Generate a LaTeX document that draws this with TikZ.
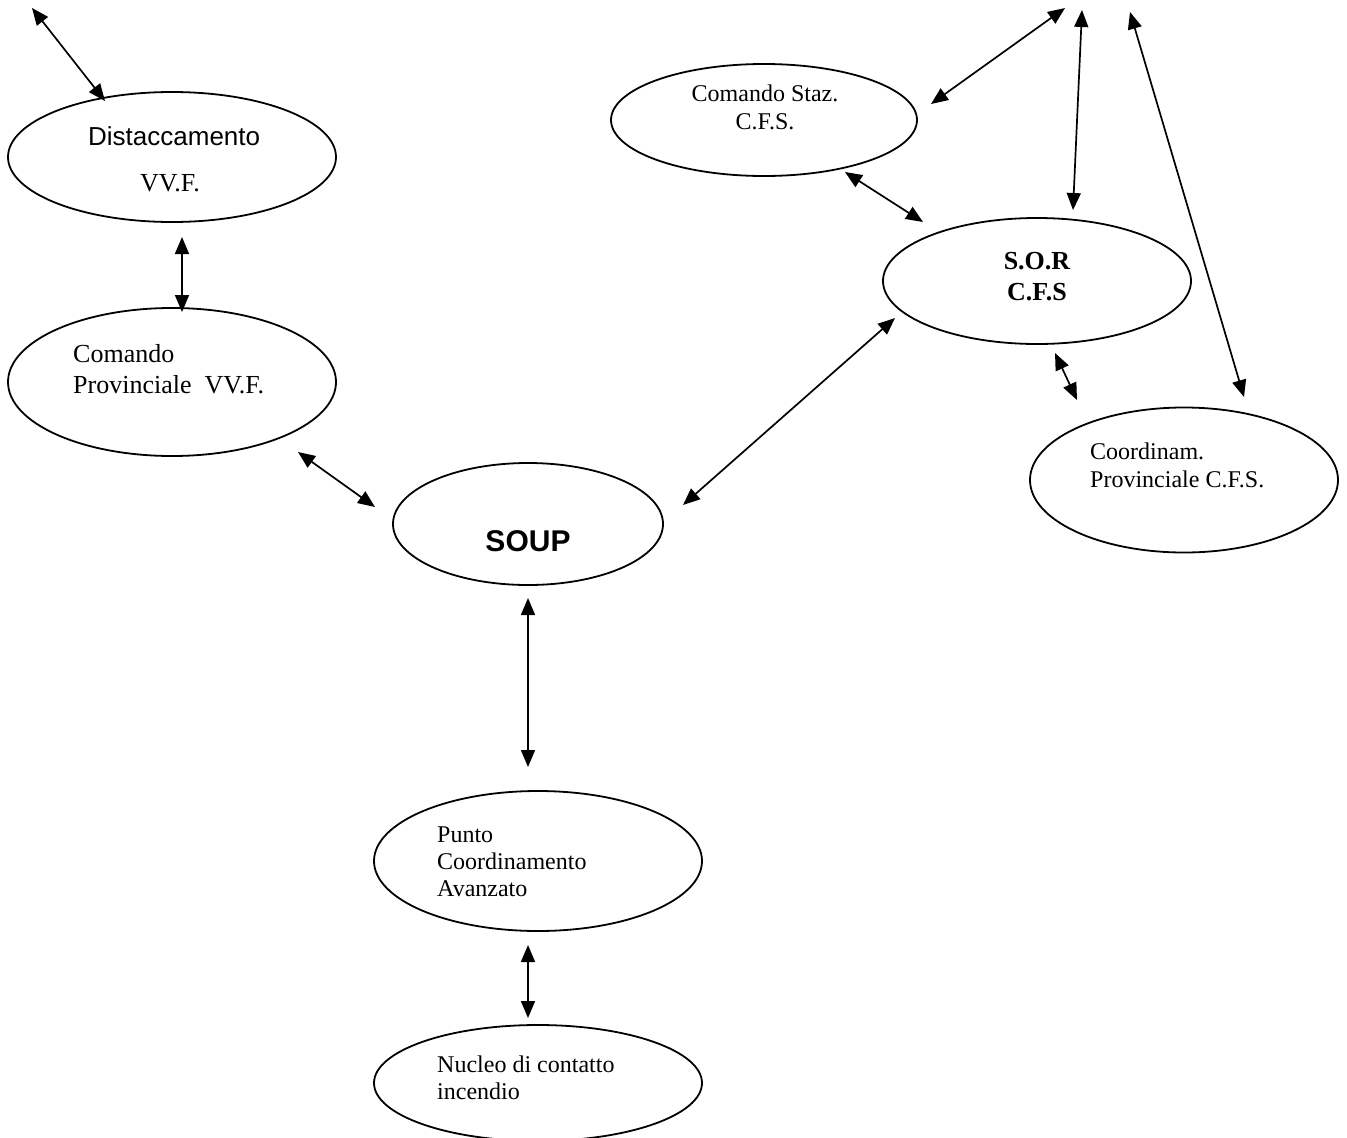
\documentclass[tikz,border=0pt]{standalone}
\usepackage{fontspec}
\setmainfont{Liberation Serif}
\newfontfamily\arialfont{Liberation Sans}
\usetikzlibrary{shapes.geometric,arrows.meta}
\begin{document}
\begin{tikzpicture}[x=1pt,y=-1pt,
  ell/.style={draw, ellipse, line width=1.8pt, inner sep=0pt},
  dbl/.style={line width=1.7pt, {Triangle[length=17pt,width=14pt]}-{Triangle[length=17pt,width=14pt]}},
  tsmall/.style={font=\fontsize{24}{28}\selectfont, inner sep=0pt},
  tlarge/.style={font=\fontsize{26}{30}\selectfont, inner sep=0pt},
  tbold/.style={font=\fontsize{26}{31}\selectfont\bfseries, inner sep=0pt},
  asans/.style={font=\arialfont\fontsize{26}{30}\selectfont, inner sep=0pt},
  asansbold/.style={font=\arialfont\fontsize{30}{34}\selectfont\bfseries, inner sep=0pt}]
\useasboundingbox[fill=white] (0,0) rectangle (1347,1138);

% ellipses
\node[ell, minimum width=328pt, minimum height=130pt] (dist) at (172,157) {};
\node[ell, minimum width=328pt, minimum height=148pt] (cpv) at (172,382) {};
\node[ell, minimum width=270pt, minimum height=122pt] (soup) at (528,524) {};
\node[ell, minimum width=306pt, minimum height=112pt] (staz) at (764,120) {};
\node[ell, minimum width=308pt, minimum height=126pt] (sor) at (1037,281) {};
\node[ell, minimum width=308pt, minimum height=145pt] (coord) at (1184,480) {};
\node[ell, minimum width=328pt, minimum height=140pt] (punto) at (538,861) {};
\node[ell, minimum width=328pt, minimum height=116pt] (nucleo) at (538,1083) {};

% texts
\node[asans, anchor=base west] (distA) at (88,145) {Distaccamento};
\node[tlarge, anchor=base west] (distB) at (140,191) {VV.F.};
\node[tlarge, anchor=base west] (cpvA) at (73,362) {Comando};
\node[tlarge, anchor=base west] (cpvB) at (73,393) {Provinciale~~VV.F.};
\node[asansbold, anchor=base] (soupA) at (528,551) {SOUP};
\node[tsmall, anchor=base] (stazA) at (765,101) {Comando Staz.};
\node[tsmall, anchor=base] (stazB) at (765,129) {C.F.S.};
\node[tbold, anchor=base] (sorA) at (1037,269) {S.O.R};
\node[tbold, anchor=base] (sorB) at (1037,300) {C.F.S};
\node[tsmall, anchor=base west] (coordA) at (1090,459) {Coordinam.};
\node[tsmall, anchor=base west] (coordB) at (1090,487) {Provinciale C.F.S.};
\node[tsmall, anchor=base west] (puntoA) at (437,842) {Punto};
\node[tsmall, anchor=base west] (puntoB) at (437,869) {Coordinamento};
\node[tsmall, anchor=base west] (puntoC) at (437,896) {Avanzato};
\node[tsmall, anchor=base west] (nucleoA) at (437,1072) {Nucleo di contatto};
\node[tsmall, anchor=base west] (nucleoB) at (437,1099) {incendio};

% connector end points
\coordinate (topL) at (32,8);
\coordinate (distNW) at (105,101);
\coordinate (distS) at (182,237);
\coordinate (cpvN) at (182,312);
\coordinate (cpvSE) at (298,452);
\coordinate (soupNW) at (375,507);
\coordinate (soupS) at (528,598);
\coordinate (puntoN) at (528,767);
\coordinate (puntoS) at (528,945);
\coordinate (nucleoN) at (528,1018);
\coordinate (soupE) at (683,505);
\coordinate (sorSW) at (895,318);
\coordinate (stazSE) at (845,172);
\coordinate (sorNW) at (923,222);
\coordinate (stazE) at (931,104);
\coordinate (topA) at (1065,8);
\coordinate (topB) at (1082,10);
\coordinate (sorN) at (1073,210);
\coordinate (topC) at (1130,12);
\coordinate (coordN) at (1244,397);
\coordinate (sorS) at (1055,353);
\coordinate (coordNW) at (1077,400);

% connectors
\draw[dbl] (topL) -- (distNW);
\draw[dbl] (distS) -- (cpvN);
\draw[dbl] (cpvSE) -- (soupNW);
\draw[dbl] (soupS) -- (puntoN);
\draw[dbl] (puntoS) -- (nucleoN);
\draw[dbl] (soupE) -- (sorSW);
\draw[dbl] (stazSE) -- (sorNW);
\draw[dbl] (stazE) -- (topA);
\draw[dbl] (topB) -- (sorN);
\draw[dbl] (topC) -- (coordN);
\draw[dbl] (sorS) -- (coordNW);
\end{tikzpicture}
\end{document}
